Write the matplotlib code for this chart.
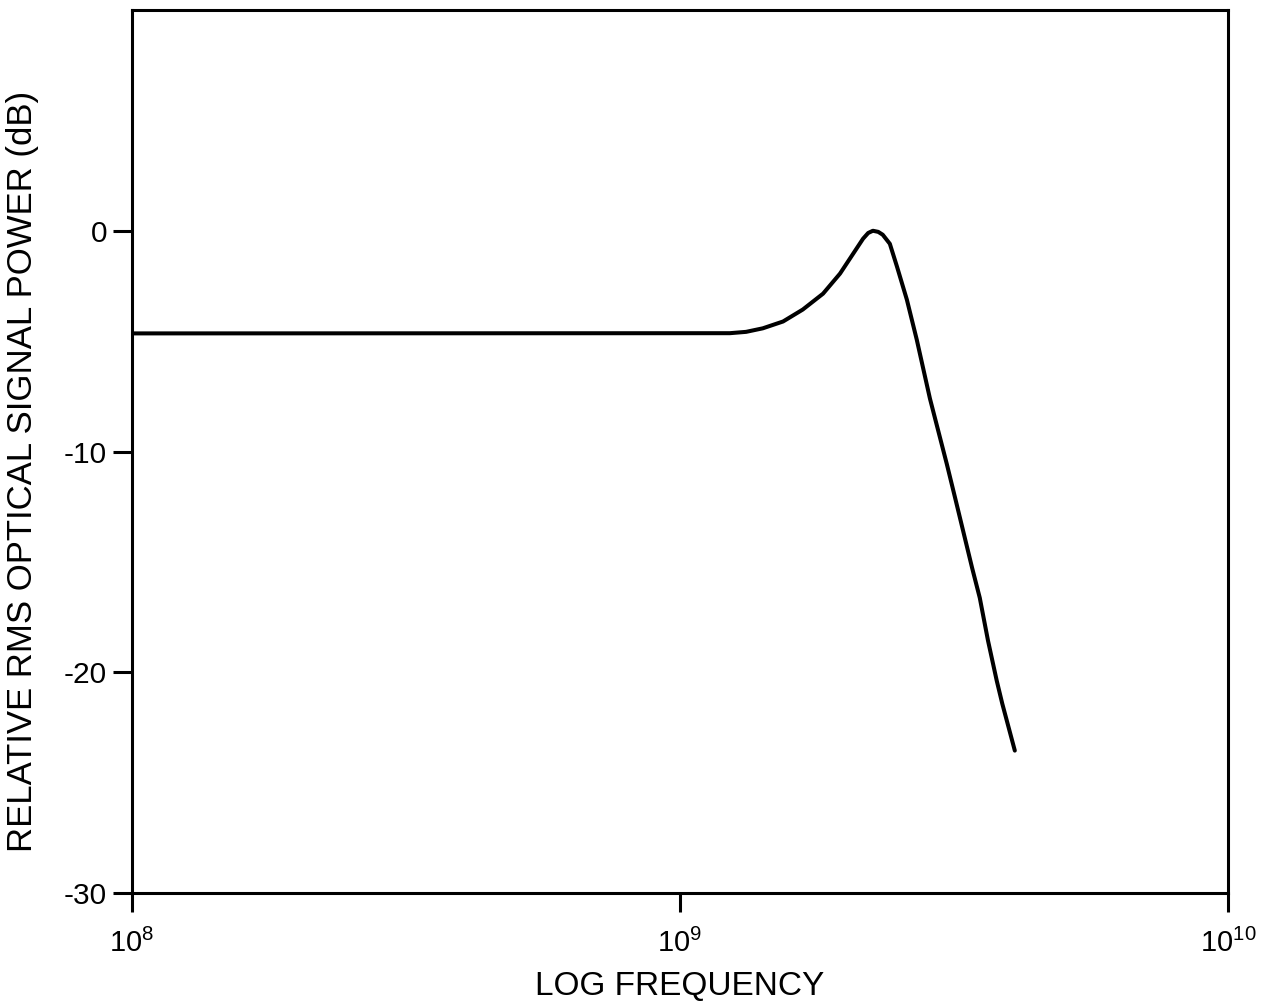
import matplotlib
matplotlib.use("Agg")
import matplotlib.pyplot as plt

plt.rcParams["font.family"] = ["Liberation Sans", "DejaVu Sans"]
plt.rcParams["mathtext.fontset"] = "custom"
plt.rcParams["mathtext.rm"] = "Liberation Sans"
plt.rcParams["mathtext.default"] = "regular"

# frequency (GHz) and relative rms optical signal power (dB)
freq_ghz = [0.1, 1.233, 1.32, 1.416, 1.542, 1.675, 1.824, 1.959, 2.070, 2.158,
            2.205, 2.249, 2.30, 2.344, 2.415, 2.489, 2.594, 2.704, 2.858, 3.069,
            3.177, 3.412, 3.524, 3.648, 3.784, 3.873, 4.083]
power_db = [-4.65, -4.64, -4.58, -4.42, -4.11, -3.57, -2.85, -1.94, -1.04, -0.36,
            -0.1, 0.0, -0.05, -0.18, -0.59, -1.63, -3.12, -4.93, -7.6, -10.58,
            -12.1, -15.27, -16.63, -18.57, -20.38, -21.42, -23.55]

xticks = [1e8, 1e9, 1e10]
xtick_labels = [r"$10^{8}$", r"$10^{9}$", r"$10^{10}$"]
yticks = [0, -10, -20, -30]

fig = plt.figure(figsize=(12.74, 10.02), dpi=100)
ax = fig.add_axes([0.1036, 0.1088, 0.8603, 0.8812])

freq = [f * 1e9 for f in freq_ghz]
ax.plot(freq, power_db, color="black", lw=2.9, solid_capstyle="round",
        solid_joinstyle="round")

ax.set_xscale("log")
ax.set_xlim(1e8, 1e10)
ax.set_ylim(-30, 10)
ax.set_xticks(xticks)
ax.set_xticklabels(xtick_labels)
ax.minorticks_off()
ax.set_yticks(yticks)
ax.set_yticklabels([str(v) for v in yticks])

for s in ax.spines.values():
    s.set_linewidth(2.2)
ax.tick_params(direction="out", length=14, width=2.2, labelsize=21.5, pad=4)
ax.tick_params(axis="x", labelsize=21, pad=12)

ax.set_xlabel("LOG FREQUENCY", fontsize=24)
ax.xaxis.set_label_coords(0.5, -0.088)
ax.set_ylabel("RELATIVE RMS OPTICAL SIGNAL POWER (dB)", fontsize=25)
ax.yaxis.set_label_coords(-0.085, 0.477)

fig.savefig("out.png", dpi=100)
